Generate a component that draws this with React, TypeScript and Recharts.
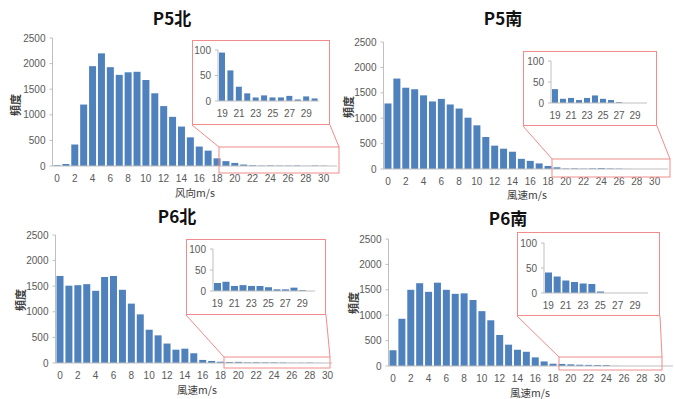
import { BarChart, Bar, XAxis, YAxis } from 'recharts'

// wind speed bins (m/s)
const binsMain = [0, 1, 2, 3, 4, 5, 6, 7, 8, 9, 10, 11, 12, 13, 14, 15, 16, 17, 18, 19, 20, 21, 22, 23, 24, 25, 26, 27, 28, 29, 30, 31]
const binsMain31 = [0, 1, 2, 3, 4, 5, 6, 7, 8, 9, 10, 11, 12, 13, 14, 15, 16, 17, 18, 19, 20, 21, 22, 23, 24, 25, 26, 27, 28, 29, 30]
const binsZoom = [19, 20, 21, 22, 23, 24, 25, 26, 27, 28, 29, 30]

const mainTicks = [0, 500, 1000, 1500, 2000, 2500]
const zoomTicks = [0, 50, 100]

const p5North = [15, 40, 420, 1200, 1950, 2200, 1930, 1780, 1830, 1840, 1680, 1420, 1170, 960, 770, 560, 380, 300, 150, 95, 60, 28, 15, 7, 11, 7, 7, 10, 3, 9, 5, 0]
const p5NorthZoom = [95, 60, 28, 15, 7, 11, 7, 7, 10, 3, 9, 5]

const p5South = [1290, 1780, 1600, 1570, 1450, 1330, 1380, 1270, 1190, 1010, 860, 630, 460, 400, 340, 200, 160, 110, 60, 33, 10, 12, 7, 12, 18, 10, 7, 2, 0, 0, 0, 0]
const p5SouthZoom = [33, 10, 12, 7, 12, 18, 10, 7, 2, 0, 0, 0]

const p6North = [1700, 1510, 1520, 1540, 1410, 1680, 1700, 1430, 1160, 950, 650, 540, 380, 260, 280, 190, 60, 40, 25, 19, 22, 12, 14, 12, 12, 9, 4, 4, 8, 2, 0]
const p6NorthZoom = [19, 22, 12, 14, 12, 12, 9, 4, 4, 8, 2, 0]

const p6South = [310, 930, 1500, 1630, 1460, 1640, 1500, 1420, 1430, 1300, 1080, 900, 610, 420, 320, 280, 170, 90, 45, 41, 33, 25, 22, 19, 18, 3, 0, 0, 0, 0, 0, 0]
const p6SouthZoom = [41, 33, 25, 22, 19, 18, 3, 0, 0, 0, 0, 0]

const BLUE = '#4f81bd'
const AXIS = '#bfbfbf'
const TICK = '#595959'
const RED = '#f28b8b'
const FONT = '"Liberation Sans", "Noto Sans CJK SC", sans-serif'

type Rect = { l: number; r: number; t: number; b: number }

function rows(xs: number[], vs: number[]) {
  return xs.map((x, i) => ({ x, v: vs[i] }))
}

// main histogram; box = chart svg area, plot = where the axes sit on the page
function Histogram({ xs, vs, box, plot, ticks, small }: {
  xs: number[]; vs: number[]; box: Rect; plot: Rect; ticks: number[]; small?: boolean
}) {
  const yW = small ? 24 : 40
  const xH = 20
  const margin = {
    left: plot.l - box.l - yW,
    right: box.r - plot.r,
    top: plot.t - box.t,
    bottom: box.b - plot.b - xH,
  }
  return (
    <div style={{ position: 'absolute', left: box.l, top: box.t }}>
      <BarChart
        width={box.r - box.l}
        height={box.b - box.t}
        data={rows(xs, vs)}
        margin={margin}
        barCategoryGap={1}
      >
        <XAxis
          dataKey="x"
          interval={1}
          height={xH}
          tickLine={false}
          tickMargin={3}
          axisLine={{ stroke: AXIS }}
          tick={{ fontSize: 10, fill: TICK, fontFamily: FONT }}
        />
        <YAxis
          width={yW}
          domain={[0, ticks[ticks.length - 1]]}
          ticks={ticks}
          interval={0}
          tickSize={3}
          tickMargin={4}
          tickLine={{ stroke: AXIS }}
          axisLine={{ stroke: AXIS }}
          tick={{ fontSize: 10, fill: TICK, fontFamily: FONT }}
        />
        <Bar dataKey="v" fill={BLUE} isAnimationActive={false} />
      </BarChart>
    </div>
  )
}

function Label({ x, y, text, size, bold, rotate }: {
  x: number; y: number; text: string; size: number; bold?: boolean; rotate?: boolean
}) {
  return (
    <div
      style={{
        position: 'absolute',
        left: x,
        top: y,
        transform: `translate(-50%, -50%)${rotate ? ' rotate(-90deg)' : ''}`,
        whiteSpace: 'nowrap',
        fontFamily: '"Noto Sans CJK SC", "Liberation Sans", sans-serif',
        fontSize: size,
        fontWeight: bold ? 700 : 400,
        color: bold && size > 12 ? '#111' : '#404040',
        lineHeight: 1,
      }}
    >
      {text}
    </div>
  )
}

function Inset({ xs, vs, box, plot }: { xs: number[]; vs: number[]; box: Rect; plot: Rect }) {
  return (
    <>
      <div
        style={{
          position: 'absolute',
          left: box.l,
          top: box.t,
          width: box.r - box.l,
          height: box.b - box.t,
          background: '#fff',
          border: `1px solid ${RED}`,
          boxSizing: 'border-box',
        }}
      />
      <Histogram xs={xs} vs={vs} box={{ l: box.l + 1, r: box.r - 1, t: box.t + 1, b: box.b - 1 }} plot={plot} ticks={zoomTicks} small />
    </>
  )
}

// zoom frame on the main axis, with the two leader lines to the inset
const frames = [
  { inset: { l: 192, r: 330, t: 40, b: 125 }, area: { l: 219, r: 339, t: 147, b: 173 } },
  { inset: { l: 523, r: 657, t: 51, b: 126 }, area: { l: 552, r: 670, t: 159, b: 177 } },
  { inset: { l: 186, r: 326, t: 239, b: 315 }, area: { l: 224, r: 330, t: 357, b: 368 } },
  { inset: { l: 517, r: 660, t: 232, b: 316 }, area: { l: 559, r: 662, t: 357, b: 370 } },
]

export default function App() {
  return (
    <div style={{ position: 'absolute', left: 0, top: 0, width: 675, height: 399, background: '#fff', overflow: 'hidden' }}>
      <Histogram xs={binsMain} vs={p5North} box={{ l: 0, r: 340, t: 25, b: 200 }} plot={{ l: 52.5, r: 337, t: 38, b: 166 }} ticks={mainTicks} />
      <Histogram xs={binsMain} vs={p5South} box={{ l: 340, r: 675, t: 25, b: 200 }} plot={{ l: 383.5, r: 668, t: 42, b: 169 }} ticks={mainTicks} />
      <Histogram xs={binsMain31} vs={p6North} box={{ l: 0, r: 340, t: 222, b: 399 }} plot={{ l: 55.5, r: 332, t: 235, b: 363 }} ticks={mainTicks} />
      <Histogram xs={binsMain} vs={p6South} box={{ l: 340, r: 675, t: 226, b: 399 }} plot={{ l: 388.5, r: 673, t: 239, b: 366 }} ticks={mainTicks} />

      <Label x={172} y={17} text="P5北" size={17} bold />
      <Label x={503} y={17} text="P5南" size={17} bold />
      <Label x={177} y={215} text="P6北" size={17} bold />
      <Label x={508} y={217} text="P6南" size={17} bold />

      <Label x={195} y={193} text="风向m/s" size={10.5} />
      <Label x={527} y={195} text="風速m/s" size={10.5} />
      <Label x={197} y={390} text="風速m/s" size={10.5} />
      <Label x={530} y={393} text="風速m/s" size={10.5} />

      <Label x={15} y={105} text="頻度" size={11} bold rotate />
      <Label x={348} y={107} text="頻度" size={11} bold rotate />
      <Label x={20} y={300} text="頻度" size={11} bold rotate />
      <Label x={353} y={303} text="頻度" size={11} bold rotate />

      <Inset xs={binsZoom} vs={p5NorthZoom} box={frames[0].inset} plot={{ l: 218, r: 319, t: 50, b: 101 }} />
      <Inset xs={binsZoom} vs={p5SouthZoom} box={frames[1].inset} plot={{ l: 551, r: 647, t: 61, b: 103 }} />
      <Inset xs={binsZoom} vs={p6NorthZoom} box={frames[2].inset} plot={{ l: 213, r: 315, t: 249, b: 291 }} />
      <Inset xs={binsZoom} vs={p6SouthZoom} box={frames[3].inset} plot={{ l: 544, r: 648, t: 243, b: 293 }} />

      <svg width={675} height={399} style={{ position: 'absolute', left: 0, top: 0, pointerEvents: 'none' }}>
        {frames.map((f, i) => (
          <g key={i} stroke={RED} strokeWidth={1} fill="none">
            <rect x={f.area.l} y={f.area.t} width={f.area.r - f.area.l} height={f.area.b - f.area.t} />
            <line x1={f.inset.l} y1={f.inset.b} x2={f.area.l} y2={f.area.t} />
            <line x1={f.inset.r} y1={f.inset.b} x2={f.area.r} y2={f.area.t} />
          </g>
        ))}
      </svg>
    </div>
  )
}
